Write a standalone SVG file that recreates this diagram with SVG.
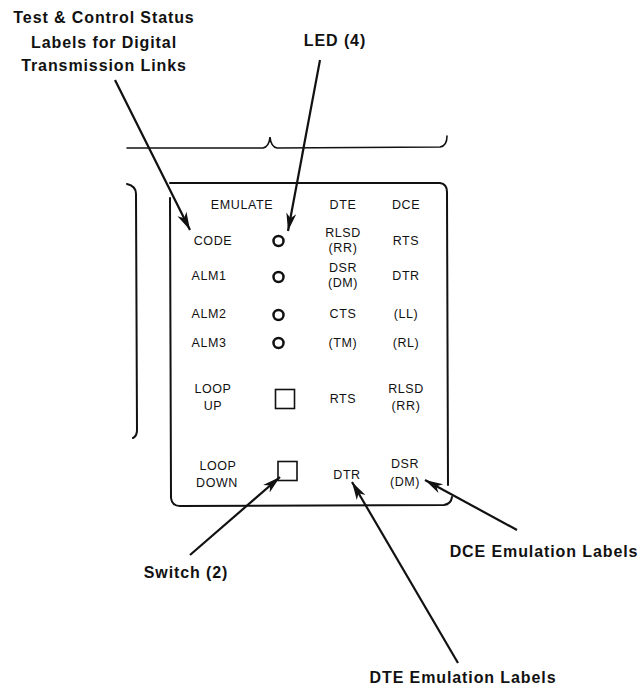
<svg xmlns="http://www.w3.org/2000/svg" width="640" height="690" viewBox="0 0 640 690">
<defs>
<marker id="ah" markerUnits="userSpaceOnUse" markerWidth="20" markerHeight="12" refX="18" refY="5" orient="auto" viewBox="0 0 20 10">
<path d="M0,0 L18,5 L0,10 L5,5 z" fill="#111"/>
</marker>
<style>
.cap{font-family:"Liberation Sans",Arial,sans-serif;font-weight:bold;font-size:16px;letter-spacing:0.9px;fill:#111;text-anchor:middle}
.lbl{font-family:"Liberation Sans",Arial,sans-serif;font-size:12.5px;letter-spacing:0.6px;fill:#111;text-anchor:middle}
.frame{fill:none;stroke:#111;stroke-width:2;stroke-linecap:round;stroke-linejoin:round}
.thin{fill:none;stroke:#111;stroke-width:1.6;stroke-linecap:round}
.led{fill:none;stroke:#111;stroke-width:2.5}
.sw{fill:none;stroke:#111;stroke-width:1.6}
.conn{fill:none;stroke:#111;stroke-width:2.2;marker-end:url(#ah)}
</style>
</defs>
<rect width="640" height="690" fill="#fff"/>

<g id="panel">
<path class="thin" d="M127,148 L263,148 Q269,147 270,137 Q271,147 277,148 L440,147 Q447,146 447,136"/>
<path class="frame" d="M127,184 Q136,186 136,194 L137,430 Q137,436 133,438"/>
<path class="frame" d="M170,183 L440,183 Q447,184 447,192 L448,485"/>
<path class="frame" d="M170,198 L171,498 Q172,506 180,506 L444,505 Q451,504 452,497"/>
</g>

<g id="header">
<text class="lbl" x="242" y="209">EMULATE</text>
<text class="lbl" x="343" y="209">DTE</text>
<text class="lbl" x="406" y="209">DCE</text>
</g>

<g id="row-code">
<text class="lbl" x="213" y="245">CODE</text>
<circle class="led" cx="278.5" cy="241" r="5"/>
<text class="lbl" x="343" y="237">RLSD</text>
<text class="lbl" x="343" y="252">(RR)</text>
<text class="lbl" x="406" y="245">RTS</text>
</g>

<g id="row-alm1">
<text class="lbl" x="209" y="280">ALM1</text>
<circle class="led" cx="278.5" cy="277" r="5"/>
<text class="lbl" x="343" y="272">DSR</text>
<text class="lbl" x="343" y="287">(DM)</text>
<text class="lbl" x="406" y="280">DTR</text>
</g>

<g id="row-alm2">
<text class="lbl" x="209" y="318">ALM2</text>
<circle class="led" cx="278.5" cy="315" r="5"/>
<text class="lbl" x="343" y="318">CTS</text>
<text class="lbl" x="406" y="318">(LL)</text>
</g>

<g id="row-alm3">
<text class="lbl" x="209" y="347">ALM3</text>
<circle class="led" cx="278.5" cy="343" r="5"/>
<text class="lbl" x="343" y="347">(TM)</text>
<text class="lbl" x="406" y="347">(RL)</text>
</g>

<g id="row-loopup">
<text class="lbl" x="213" y="393">LOOP</text>
<text class="lbl" x="213" y="410">UP</text>
<rect class="sw" x="275.5" y="389.5" width="19" height="19"/>
<text class="lbl" x="343" y="403">RTS</text>
<text class="lbl" x="406" y="393">RLSD</text>
<text class="lbl" x="406" y="410">(RR)</text>
</g>

<g id="row-loopdown">
<text class="lbl" x="218" y="470">LOOP</text>
<text class="lbl" x="217" y="487">DOWN</text>
<rect class="sw" x="278" y="461.5" width="19" height="19"/>
<text class="lbl" x="347" y="479">DTR</text>
<text class="lbl" x="405" y="468">DSR</text>
<text class="lbl" x="405" y="486">(DM)</text>
</g>

<g id="callouts">
<text class="cap" x="104" y="23">Test &amp; Control Status</text>
<text class="cap" x="104" y="48">Labels for Digital</text>
<text class="cap" x="104" y="71">Transmission Links</text>
<text class="cap" x="335" y="46">LED (4)</text>
<text class="cap" x="186" y="578">Switch (2)</text>
<text class="cap" x="544" y="557">DCE Emulation Labels</text>
<text class="cap" x="463" y="683">DTE Emulation Labels</text>
</g>

<g id="connectors">
<line class="conn" x1="115" y1="80" x2="190" y2="230"/>
<line class="conn" x1="320" y1="60" x2="288" y2="231"/>
<line class="conn" x1="190" y1="555" x2="280" y2="477"/>
<line class="conn" x1="458" y1="663" x2="352" y2="482"/>
<line class="conn" x1="517" y1="530" x2="425" y2="480"/>
</g>
</svg>
